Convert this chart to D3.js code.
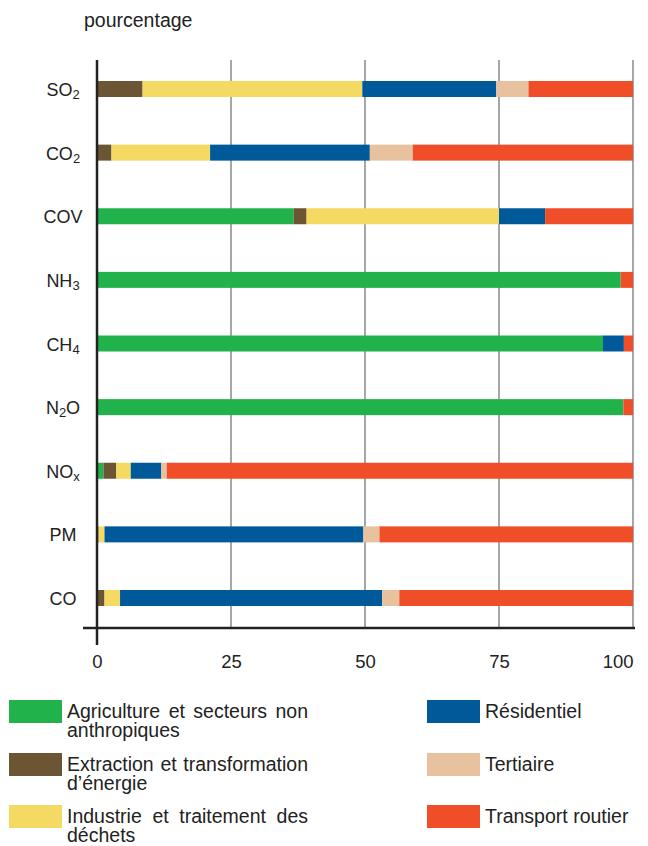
<!DOCTYPE html>
<html>
<head>
<meta charset="utf-8">
<script src="https://cdn.jsdelivr.net/npm/d3@7"></script>
<style>
  body { margin: 0; background: #fff; }
  svg { display: block; font-family: "Liberation Sans", Arial, sans-serif; }
</style>
</head>
<body>
<svg id="chart"></svg>
<script>
// pollutants, "_" marks the next char as subscript
const categories = ["SO_2", "CO_2", "COV", "NH_3", "CH_4", "N_2O", "NO_x", "PM", "CO"];

// share of emissions by sector (%), one value per pollutant
const agriculture = [0, 0, 36.7, 97.7, 94.4, 98.2, 1.2, 0, 0];
const extraction = [8.5, 2.7, 2.4, 0, 0, 0, 2.4, 0.3, 1.4];
const industrie = [41, 18.4, 35.9, 0, 0, 0, 2.7, 1.1, 2.9];
const residentiel = [25, 29.8, 8.6, 0, 3.9, 0, 5.7, 48.3, 48.9];
const tertiaire = [6, 8, 0, 0, 0, 0, 1.0, 3, 3.2];
const transport = [19.5, 41.1, 16.4, 2.3, 1.7, 1.8, 87, 47.3, 43.6];

const sectorNames = [
  ["Agriculture et secteurs non", "anthropiques"],
  ["Extraction et transformation", "d\u2019énergie"],
  ["Industrie et traitement des", "déchets"],
  ["Résidentiel"],
  ["Tertiaire"],
  ["Transport routier"]
];
const colors = ["#22b24c", "#6b5533", "#f4da62", "#005a9a", "#e8c29e", "#f04e29"];
const xTicks = [0, 25, 50, 75, 100];

const width = 648;
const height = 846;

const svg = d3.select("#chart").attr("width", width).attr("height", height);

const keys = ["agriculture", "extraction", "industrie", "residentiel", "tertiaire", "transport"];
const series = [agriculture, extraction, industrie, residentiel, tertiaire, transport];
const rows = categories.map((c, i) => {
  let r = { cat: c };
  keys.forEach((k, j) => (r[k] = series[j][i]));
  return r;
});
const stacked = d3.stack().keys(keys)(rows);

const x = d3.scaleLinear().domain([0, 100]).range([97, 633]);
const y = d3.scalePoint().domain(categories).range([89, 598]);
const barH = 16;

// title
svg.append("text")
  .attr("x", 84)
  .attr("y", 27)
  .attr("font-size", 19.5)
  .attr("fill", "#222")
  .text("pourcentage");

// grid
svg.append("g")
  .selectAll("line")
  .data(xTicks.slice(1))
  .join("line")
  .attr("x1", (d) => x(d))
  .attr("x2", (d) => x(d))
  .attr("y1", 60)
  .attr("y2", 628)
  .attr("stroke", "#777")
  .attr("stroke-width", 1.3);

// bars
svg.append("g")
  .selectAll("g")
  .data(stacked)
  .join("g")
  .attr("fill", (d, i) => colors[i])
  .selectAll("rect")
  .data((d) => d)
  .join("rect")
  .attr("x", (d) => x(d[0]))
  .attr("width", (d) => Math.max(0, x(d[1]) - x(d[0])))
  .attr("y", (d) => y(d.data.cat) - barH / 2)
  .attr("height", barH);

// x axis
const xAxis = svg.append("g")
  .attr("transform", "translate(0,628)")
  .call(d3.axisBottom(x).tickValues(xTicks).tickSize(0).tickPadding(27));
xAxis.select(".domain").remove();
xAxis.selectAll("text")
  .attr("font-size", 18.5)
  .attr("font-family", null)
  .attr("fill", "#222")
  .attr("text-anchor", (d) => (d === 100 ? "end" : "middle"));

svg.append("line")
  .attr("x1", 83).attr("x2", 635)
  .attr("y1", 628).attr("y2", 628)
  .attr("stroke", "#222").attr("stroke-width", 2.5);
svg.append("line")
  .attr("x1", 97).attr("x2", 97)
  .attr("y1", 60).attr("y2", 645)
  .attr("stroke", "#222").attr("stroke-width", 2.5);

// category labels
const labels = svg.append("g")
  .selectAll("text")
  .data(categories)
  .join("text")
  .attr("x", 63)
  .attr("y", (d) => y(d) + 7)
  .attr("text-anchor", "middle")
  .attr("font-size", 18)
  .attr("fill", "#222");

labels.each(function (d) {
  const t = d3.select(this);
  let i = 0;
  while (i < d.length) {
    if (d[i] === "_") {
      t.append("tspan").attr("dy", 3).attr("font-size", 13).text(d[i + 1]);
      i += 2;
      if (i < d.length) t.append("tspan").attr("dy", -3).text(d.slice(i));
      break;
    } else {
      const j = d.indexOf("_", i);
      const end = j === -1 ? d.length : j;
      t.append("tspan").text(d.slice(i, end));
      i = end;
    }
  }
});

// legend
const legendW = 241;
const legend = svg.append("g")
  .selectAll("g")
  .data(sectorNames)
  .join("g")
  .attr("transform", (d, i) =>
    "translate(" + (i < 3 ? 9 : 427) + "," + [700, 753, 805][i % 3] + ")");

legend.append("rect")
  .attr("width", 53)
  .attr("height", 23)
  .attr("fill", (d, i) => colors[i]);

legend.each(function (d) {
  const g = d3.select(this);
  d.forEach((line, k) => {
    const t = g.append("text")
      .attr("x", 58)
      .attr("y", 18 + k * 19)
      .attr("font-size", 19.5)
      .attr("fill", "#222")
      .text(line);
    // first line of a wrapped entry is justified
    if (d.length > 1 && k === 0) {
      const gaps = line.split(" ").length - 1;
      const extra = legendW - t.node().getComputedTextLength();
      if (gaps > 0 && extra > 0) t.attr("word-spacing", extra / gaps);
    }
  });
});
</script>
</body>
</html>
